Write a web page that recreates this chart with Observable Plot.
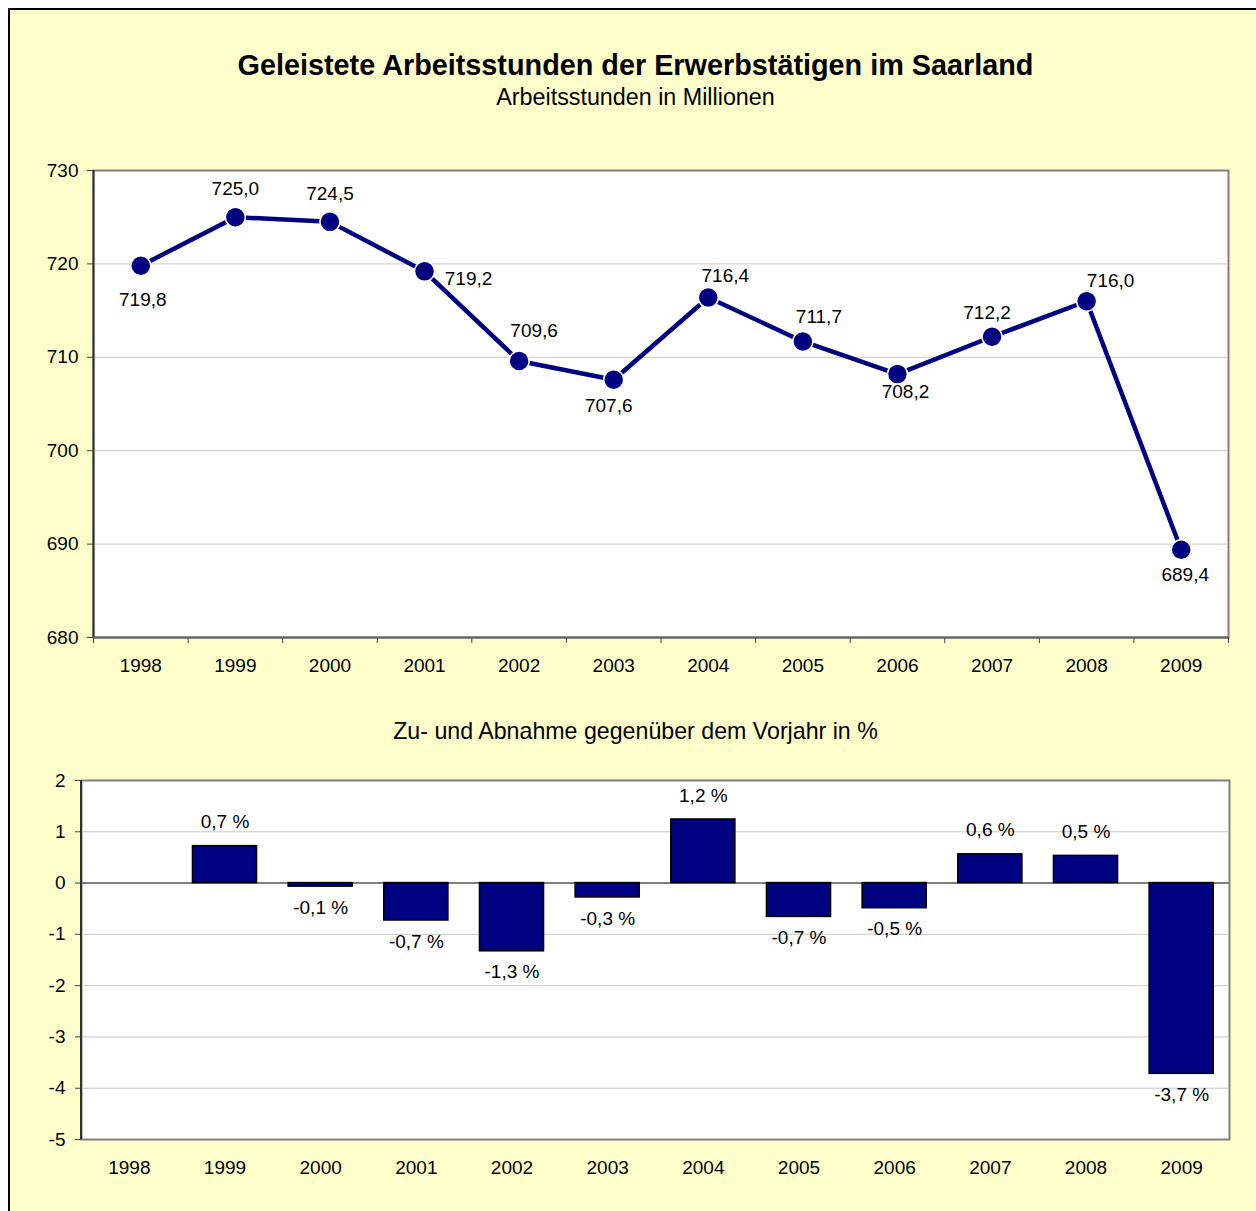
<!DOCTYPE html>
<html>
<head>
<meta charset="utf-8">
<script src="https://cdn.jsdelivr.net/npm/d3@7"></script>
<script src="https://cdn.jsdelivr.net/npm/@observablehq/plot@0.6"></script>
<style>
  html, body { margin: 0; padding: 0; background: white; }
  #wrap { position: relative; width: 1256px; height: 1211px; overflow: hidden; font-family: "Liberation Sans", Arial, sans-serif; color: #000; }
  #panel { position: absolute; left: 8px; top: 8px; width: 1300px; height: 1300px; background: #FFFFCC; border: 2px solid #000; box-sizing: border-box; }
  .t { position: absolute; left: 0; width: 1271px; text-align: center; line-height: 1; white-space: nowrap; }
  .chart { position: absolute; left: 0; }
</style>
</head>
<body>
<div id="wrap">
  <div id="panel"></div>
  <div class="t" id="title" style="top:51px; font-size:28.8px; font-weight:bold;"></div>
  <div class="t" id="subtitle" style="top:86px; font-size:23.3px;"></div>
  <div class="t" id="subtitle2" style="top:720px; font-size:23.2px;"></div>
  <div class="chart" id="chartTop" style="top:0px;"></div>
  <div class="chart" id="chartBottom" style="top:700px;"></div>
</div>
<script>
// ---- data ----
const title = "Geleistete Arbeitsstunden der Erwerbstätigen im Saarland";
const subtitle = "Arbeitsstunden in Millionen";
const subtitle2 = "Zu- und Abnahme gegenüber dem Vorjahr in %";
const years = [1998, 1999, 2000, 2001, 2002, 2003, 2004, 2005, 2006, 2007, 2008, 2009];
const hours = [719.8, 725.0, 724.5, 719.2, 709.6, 707.6, 716.4, 711.7, 708.2, 712.2, 716.0, 689.4];
const changes = [null, 0.72, -0.07, -0.73, -1.33, -0.28, 1.24, -0.66, -0.49, 0.56, 0.53, -3.72];
const hourTicks = [680, 690, 700, 710, 720, 730];
const changeTicks = [-5, -4, -3, -2, -1, 0, 1, 2];

// ---- layout (label placement offsets in px, per year) ----
const labelOffsets = {
  1998: [2, 34], 1999: [0, -28], 2000: [0, -28], 2001: [44, 8],
  2002: [15, -30], 2003: [-5, 26], 2004: [17, -22], 2005: [16, -25],
  2006: [8, 18], 2007: [-5, -24], 2008: [24, -20], 2009: [4, 25]
};

document.getElementById("title").textContent = title;
document.getElementById("subtitle").textContent = subtitle;
document.getElementById("subtitle2").textContent = subtitle2;

const de = v => v.toFixed(1).replace(".", ",");
const navy = "#000080";
const font = "'Liberation Sans', Arial, sans-serif";

const lineData = years.map((year, i) => ({year, value: hours[i]}));
const barData = years.map((year, i) => ({year, change: changes[i]})).filter(d => d.change != null);
const boundaries = d3.range(years.length + 1).map(i => years[0] - 0.5 + i);

const chartTop = Plot.plot({
  width: 1256, height: 700,
  marginLeft: 93, marginRight: 28, marginTop: 170, marginBottom: 63,
  style: {background: "transparent", fontFamily: font, fontSize: "19px", color: "#000"},
  x: {type: "linear", domain: [years[0] - 0.5, years[years.length - 1] + 0.5]},
  y: {domain: [hourTicks[0], hourTicks[hourTicks.length - 1]]},
  marks: [
    Plot.frame({fill: "white", stroke: "#808080", strokeWidth: 2}),
    Plot.gridY(hourTicks.slice(1, -1), {stroke: "#c8c8c8", strokeOpacity: 1, strokeWidth: 1}),
    Plot.axisY(hourTicks, {tickSize: 6, tickPadding: 9, tickFormat: d => String(d), label: null, stroke: "#404040"}),
    Plot.axisX(boundaries, {tickSize: 6, tickFormat: () => "", label: null, stroke: "#404040"}),
    Plot.axisX(years, {tickSize: 0, tickPadding: 21, tickFormat: d => String(d), label: null}),
    Plot.ruleX([years[0] - 0.5], {stroke: "#303030", strokeWidth: 2}),
    Plot.ruleY([hourTicks[0]], {stroke: "#606060", strokeWidth: 2}),
    Plot.line(lineData, {x: "year", y: "value", stroke: navy, strokeWidth: 4.5}),
    Plot.dot(lineData, {x: "year", y: "value", r: 10, fill: navy, stroke: "white", strokeWidth: 1.5}),
    ...lineData.map(d => Plot.text([d], {
      x: "year", y: "value", text: v => de(v.value),
      dx: labelOffsets[d.year][0], dy: labelOffsets[d.year][1],
      fill: "#000", fontSize: 19
    }))
  ]
});
document.getElementById("chartTop").appendChild(chartTop);

const chartBottom = Plot.plot({
  width: 1256, height: 511,
  marginLeft: 81, marginRight: 27, marginTop: 80, marginBottom: 72,
  style: {background: "transparent", fontFamily: font, fontSize: "19px", color: "#000"},
  x: {type: "band", domain: years, paddingInner: 0.33, paddingOuter: 0.165, round: false},
  y: {domain: [changeTicks[0], changeTicks[changeTicks.length - 1]]},
  marks: [
    Plot.frame({fill: "white", stroke: "#808080", strokeWidth: 2}),
    Plot.gridY(changeTicks.filter(t => t !== 0 && t !== changeTicks[0] && t !== changeTicks[changeTicks.length - 1]), {stroke: "#c8c8c8", strokeOpacity: 1, strokeWidth: 1}),
    Plot.axisY(changeTicks, {tickSize: 6, tickPadding: 10, tickFormat: d => String(d), label: null, stroke: "#404040"}),
    Plot.axisX(years, {tickSize: 0, tickPadding: 21, tickFormat: d => String(d), label: null}),
    Plot.ruleY([0], {stroke: "#808080", strokeWidth: 2}),
    Plot.barY(barData, {x: "year", y: "change", fill: navy, stroke: "#000", strokeWidth: 1.5}),
    Plot.text(barData.filter(d => d.change > 0), {x: "year", y: "change", text: d => de(d.change) + " %", dy: -24, fill: "#000", fontSize: 19}),
    Plot.text(barData.filter(d => d.change < 0), {x: "year", y: "change", text: d => de(d.change) + " %", dy: 21, fill: "#000", fontSize: 19})
  ]
});
document.getElementById("chartBottom").appendChild(chartBottom);

// left axis line of lower chart
d3.select(chartBottom).append("line")
  .attr("x1", 81).attr("x2", 81).attr("y1", 80).attr("y2", 511 - 72)
  .attr("stroke", "#303030").attr("stroke-width", 2);
</script>
</body>
</html>
